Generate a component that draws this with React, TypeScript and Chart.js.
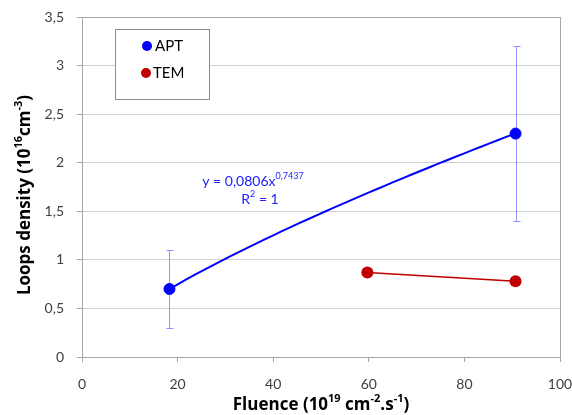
import React, { useEffect, useRef } from "react";
import { Chart, registerables } from "chart.js";

Chart.register(...registerables);

const aptFluence = [18.3, 90.7];
const aptDensity = [0.7, 2.3];
const aptError = [0.4, 0.9];
const temFluence = [59.7, 90.7];
const temDensity = [0.87, 0.78];
const trendCoef = 0.0806;
const trendExp = 0.7437;
const xTicks = [0, 20, 40, 60, 80, 100];
const yTicks = [0, 0.5, 1, 1.5, 2, 2.5, 3, 3.5];
const seriesNames = ["APT", "TEM"];

const FONT = "Lato, 'Open Sans', sans-serif";
const TFONT = "'Open Sans', Lato, sans-serif";
const BLUE = "#0000ff";
const RED = "#c00000";

type Seg = { t: string; sup?: boolean };

function drawRich(ctx: CanvasRenderingContext2D, segs: Seg[], cx: number, cy: number, size: number, weight: string, color: string, family = FONT) {
  const supSize = Math.round(size * 0.62);
  let total = 0;
  const widths = segs.map((s) => {
    ctx.font = `${weight} ${s.sup ? supSize : size}px ${family}`;
    const w = ctx.measureText(s.t).width;
    total += w;
    return w;
  });
  let x = cx - total / 2;
  ctx.fillStyle = color;
  ctx.textAlign = "left";
  ctx.textBaseline = "middle";
  segs.forEach((s, i) => {
    ctx.font = `${weight} ${s.sup ? supSize : size}px ${family}`;
    ctx.fillText(s.t, x, s.sup ? cy - size * 0.38 : cy);
    x += widths[i];
  });
}

// trendline points derived from the equation displayed on the chart
const trendX: number[] = [];
for (let i = 0; i <= 40; i++) trendX.push(aptFluence[0] + ((aptFluence[1] - aptFluence[0]) * i) / 40);

const overlayPlugin = {
  id: "overlay",
  beforeDatasetsDraw(chart: any) {
    const { ctx, scales } = chart;
    const xs = scales.x, ys = scales.y;
    ctx.save();
    ctx.strokeStyle = "rgba(120,120,255,0.8)";
    ctx.lineWidth = 1;
    aptFluence.forEach((f, i) => {
      const px = Math.round(xs.getPixelForValue(f)) + 0.5;
      const top = Math.round(ys.getPixelForValue(aptDensity[i] + aptError[i])) + 0.5;
      const bot = Math.round(ys.getPixelForValue(aptDensity[i] - aptError[i])) + 0.5;
      ctx.beginPath();
      ctx.moveTo(px, top);
      ctx.lineTo(px, bot);
      ctx.moveTo(px - 3, top);
      ctx.lineTo(px + 4, top);
      ctx.moveTo(px - 3, bot);
      ctx.lineTo(px + 4, bot);
      ctx.stroke();
    });
    ctx.restore();
  },
  afterDraw(chart: any) {
    const { ctx, chartArea: a } = chart;
    ctx.save();
    // plot border
    ctx.strokeStyle = "#a6a6a6";
    ctx.lineWidth = 1;
    ctx.strokeRect(Math.round(a.left) + 0.5, Math.round(a.top) + 0.5, Math.round(a.right - a.left), Math.round(a.bottom - a.top));
    // legend box
    ctx.fillStyle = "#ffffff";
    ctx.fillRect(115, 29, 94, 70);
    ctx.strokeStyle = "#8c8c8c";
    ctx.strokeRect(115.5, 29.5, 94, 70);
    const colors = [BLUE, RED];
    const ly = [46, 73];
    seriesNames.forEach((n, i) => {
      ctx.fillStyle = colors[i];
      ctx.beginPath();
      ctx.arc(i === 0 ? 147 : 146, ly[i], 5, 0, Math.PI * 2);
      ctx.fill();
      ctx.fillStyle = "#000000";
      ctx.font = `15px ${FONT}`;
      ctx.textAlign = "left";
      ctx.textBaseline = "middle";
      ctx.fillText(n, i === 0 ? 155 : 153, ly[i]);
    });
    // equation
    drawRich(ctx, [{ t: "y = 0,0806x" }, { t: "0,7437", sup: true }], 253, 181, 14, "normal", "#2020ff");
    drawRich(ctx, [{ t: "R" }, { t: "2", sup: true }, { t: " = 1" }], 260, 199, 14, "normal", "#2020ff");
    // x title
    drawRich(ctx, [{ t: "Fluence (10" }, { t: "19", sup: true }, { t: " cm" }, { t: "-2", sup: true }, { t: ".s" }, { t: "-1", sup: true }, { t: ")" }], 321, 405, 17, "bold", "#000000", TFONT);
    // y title
    ctx.translate(25, 195);
    ctx.rotate(-Math.PI / 2);
    drawRich(ctx, [{ t: "Loops density (10" }, { t: "16", sup: true }, { t: "cm" }, { t: "-3", sup: true }, { t: ")" }], 0, 0, 17, "bold", "#000000", TFONT);
    ctx.restore();
  },
};

export default function App() {
  const ref = useRef<HTMLCanvasElement>(null);
  useEffect(() => {
    document.body.style.margin = "0";
    const chart = new Chart(ref.current!, {
      type: "scatter",
      data: {
        datasets: [
          {
            label: "trend",
            data: trendX.map((x) => ({ x, y: trendCoef * Math.pow(x, trendExp) })),
            showLine: true,
            borderColor: BLUE,
            borderWidth: 2,
            pointRadius: 0,
            tension: 0,
          },
          {
            label: seriesNames[0],
            data: aptFluence.map((x, i) => ({ x, y: aptDensity[i] })),
            backgroundColor: BLUE,
            borderColor: BLUE,
            pointRadius: 5.5,
            showLine: false,
          },
          {
            label: seriesNames[1],
            data: temFluence.map((x, i) => ({ x, y: temDensity[i] })),
            backgroundColor: RED,
            borderColor: RED,
            borderWidth: 1.5,
            pointRadius: 6,
            pointBorderWidth: 0,
            showLine: true,
          },
        ],
      },
      options: {
        animation: false,
        responsive: false,
        layout: { padding: { left: 0, top: 17, right: 12, bottom: 0 } },
        plugins: { legend: { display: false }, tooltip: { enabled: false } },
        scales: {
          x: {
            type: "linear",
            min: 0,
            max: 100,
            afterBuildTicks: (s: any) => { s.ticks = xTicks.map((v) => ({ value: v })); },
            afterFit: (s: any) => { s.height = 58; s.paddingLeft = 0; s.paddingRight = 0; },
            ticks: { color: "#404040", font: { family: FONT, size: 14 }, padding: 14 },
            grid: { drawOnChartArea: false, drawTicks: true, tickLength: 5, color: "#a6a6a6" },
            border: { color: "#a6a6a6" },
          },
          y: {
            type: "linear",
            min: 0,
            max: 3.5,
            afterBuildTicks: (s: any) => { s.ticks = yTicks.map((v) => ({ value: v })); },
            afterFit: (s: any) => { s.width = 82; s.paddingTop = 0; s.paddingBottom = 0; },
            ticks: {
              color: "#404040",
              font: { family: FONT, size: 14 },
              padding: 13,
              callback: (v: any) => String(v).replace(".", ","),
            },
            grid: { color: "#d0d0d0", tickLength: 5, tickColor: "#a6a6a6" },
            border: { color: "#a6a6a6" },
          },
        },
      },
      plugins: [overlayPlugin],
    });
    return () => chart.destroy();
  }, []);
  return (
    <div style={{ width: 572, height: 415 }}>
      <canvas ref={ref} width={572} height={415} />
    </div>
  );
}
